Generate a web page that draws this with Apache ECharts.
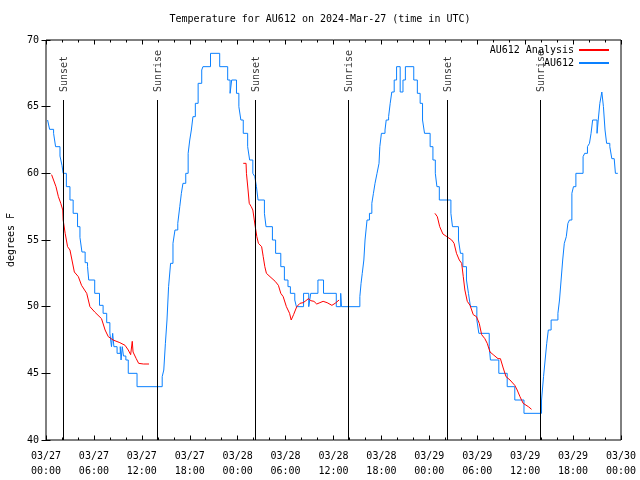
<!DOCTYPE html>
<html><head><meta charset="utf-8">
<script src="https://cdn.jsdelivr.net/npm/echarts@6/dist/echarts.min.js"></script>
<style>html,body{margin:0;padding:0;background:#fff}#c{width:640px;height:480px}</style>
</head><body><div id="c"></div>
<script>
// ---- data ----
const titleText = 'Temperature for AU612 on 2024-Mar-27 (time in UTC)';
const yTitle = 'degrees F';
// x in hours since 2024-03-27 00:00 UTC
const xTickLabels = ['03/27\n00:00','03/27\n06:00','03/27\n12:00','03/27\n18:00','03/28\n00:00','03/28\n06:00','03/28\n12:00','03/28\n18:00','03/29\n00:00','03/29\n06:00','03/29\n12:00','03/29\n18:00','03/30\n00:00'];
const sunHours = [2.17, 13.94, 26.17, 37.86, 50.25, 61.86];
const sunLabels = ['Sunset','Sunrise','Sunset','Sunrise','Sunset','Sunrise'];

// AU612 observed (step changes)
const auHours = [0.2,0.45,0.95,1.2,1.75,2.0,2.15,2.55,3.0,3.4,3.95,4.25,4.5,4.9,5.2,5.35,6.1,6.7,7.15,7.6,8.0,8.2,8.35,8.5,8.9,9.3,9.4,9.55,9.7,10.0,10.3,11.4,
14.55,14.75,14.95,15.15,15.35,15.6,15.9,16.15,16.5,16.75,16.95,17.15,17.5,17.8,18.0,18.2,18.4,18.7,19.05,19.5,19.65,20.6,21.75,22.75,23.05,23.25,23.85,24.15,24.4,24.7,25.25,25.5,25.9,26.15,26.35,26.55,27.35,27.55,28.35,28.75,29.4,29.85,30.3,30.6,31.15,31.35,32.25,32.9,33.15,34.05,34.75,36.35,36.9,37.0,
39.3,39.45,39.6,39.8,39.95,40.2,40.5,40.8,41.0,41.2,41.45,41.7,41.8,42.0,42.45,42.6,42.9,43.1,43.3,43.6,43.9,44.35,44.7,45.0,46.05,46.5,46.85,47.15,47.4,48.1,48.45,48.75,48.95,49.25,50.7,50.9,51.65,51.9,52.2,52.65,52.9,53.15,53.95,54.2,55.5,55.65,56.7,57.75,58.7,59.85,
62.05,62.3,62.5,62.7,62.9,63.25,64.1,64.3,64.5,64.7,64.9,65.15,65.35,65.55,65.85,66.05,66.35,67.25,67.45,67.8,68.05,68.25,68.45,69.0,69.15,69.35,69.6,69.8,70.0,70.2,70.6,70.85,71.15,71.3,71.6];
const auTemps = [64.0,63.3,63.0,62.0,61.3,60.6,60.0,59.0,58.0,57.0,56.0,55.2,54.1,53.3,53.0,52.0,51.0,50.1,49.5,48.8,48.0,47.0,48.0,47.0,46.5,47.0,46.0,47.0,46.3,46.0,45.0,44.0,
44.75,45.25,47.25,49.0,51.5,53.25,54.75,55.75,56.25,57.5,58.5,59.25,60.0,61.5,62.5,63.25,64.25,65.25,66.75,67.75,68.0,69.0,68.0,67.0,66.0,67.0,66.0,65.0,64.0,63.0,62.0,61.0,60.0,59.75,59.0,58.0,57.0,56.0,55.0,54.0,53.0,52.0,51.5,51.0,50.5,50.0,51.0,50.0,51.0,52.0,51.0,50.0,51.0,50.0,
50.75,51.75,52.5,53.5,55.0,56.5,57.0,57.75,58.5,59.25,60.0,60.75,62.0,63.0,63.25,64.0,64.25,65.25,66.1,67.0,68.0,66.1,67.0,68.0,67.0,66.0,65.25,64.0,63.0,62.0,61.0,60.0,59.0,58.0,57.0,56.0,55.0,54.0,53.0,52.0,51.0,50.0,49.0,48.0,47.0,46.0,45.0,44.0,43.0,42.0,
43.0,44.75,46.0,47.25,48.25,49.0,49.5,50.5,52.0,53.5,54.75,55.25,56.25,56.5,58.5,59.0,60.0,61.25,61.5,62.0,62.25,63.0,64.0,63.0,64.0,65.25,66.1,65.0,63.25,62.25,62.0,61.1,61.0,60.0,60.0];

// AU612 Analysis (null = gap between runs)
const anaHours = [0.7,0.95,1.25,1.55,1.85,2.1,2.15,2.4,2.7,3.0,3.25,3.55,4.05,4.45,5.1,5.5,6.1,6.95,7.4,7.8,8.4,9.25,9.9,10.3,10.6,10.8,10.9,11.3,11.6,12.2,12.9,
null,
24.7,25.05,25.1,25.3,25.45,25.7,25.9,26.0,26.2,26.4,26.6,27.0,27.2,27.4,27.6,28.05,28.7,29.1,29.4,29.7,30.1,30.5,30.7,31.0,31.4,31.8,32.2,32.55,32.85,33.15,33.55,33.9,34.3,34.7,35.2,35.8,36.2,36.7,
null,
48.7,49.0,49.3,49.7,50.2,50.4,50.8,51.1,51.4,51.75,52.05,52.25,52.45,52.75,53.1,53.5,53.9,54.25,54.55,54.95,55.25,55.6,56.0,56.6,56.9,57.25,57.6,58.1,58.7,59.0,59.35,59.75,60.4,60.8];
const anaTemps = [59.9,59.75,59.0,58.25,57.75,57.25,56.5,55.5,54.5,54.25,53.5,52.6,52.25,51.6,51.0,50.0,49.6,49.1,48.25,47.75,47.5,47.3,47.1,46.75,46.4,47.4,46.6,46.1,45.75,45.7,45.7,
null,
60.75,60.75,60.0,58.75,57.75,57.5,57.25,57.1,56.0,55.25,54.75,54.5,53.75,53.0,52.5,52.25,51.9,51.6,51.0,50.75,50.0,49.5,49.0,49.4,50.0,50.25,50.3,50.45,50.6,50.45,50.4,50.2,50.3,50.4,50.3,50.1,50.25,50.5,
null,
57.0,56.75,56.0,55.45,55.25,55.1,55.0,54.75,54.0,53.5,53.25,52.25,51.25,50.4,50.1,49.4,49.25,48.75,47.9,47.6,47.25,46.6,46.4,46.1,46.1,45.4,44.75,44.5,44.1,43.75,43.25,42.75,42.5,42.3];

// ---- chart ----
const FONT = '"DejaVu Sans Mono","Liberation Mono",monospace';
const SUN_LINE_TOP = 65.5;   // height of the sunrise/sunset markers
const SUN_LABEL_Y = 66.1;    // where their text starts
const X_MIN = 0, X_MAX = 72, Y_MIN = 40, Y_MAX = 70;

const pair = (xs, ys) => xs.map((x, i) => (x === null || ys[i] === null) ? '-' : [x, ys[i]]);

const tickStyle = {show: true, inside: true, length: 4.5, lineStyle: {color: '#000', width: 1}};
const minorStyle = {show: true, splitNumber: 3, length: 2.5, lineStyle: {color: '#000', width: 1}};
const legendBase = {right: 30, padding: 0, align: 'right', orient: 'vertical',
  itemWidth: 30, itemHeight: 10, selectedMode: false, itemStyle: {opacity: 0},
  textStyle: {fontFamily: FONT, fontSize: 10, color: '#000'}};

const chart = echarts.init(document.getElementById('c'), null, {renderer: 'canvas'});
chart.setOption({
  animation: false,
  backgroundColor: '#fff',
  textStyle: {fontFamily: FONT},
  title: {text: titleText, left: 'center', top: 14, padding: 0,
    textStyle: {fontFamily: FONT, fontSize: 10, fontWeight: 'normal', color: '#000'}},
  legend: [
    Object.assign({}, legendBase, {data: ['AU612 Analysis'], top: 45}),
    Object.assign({}, legendBase, {data: ['AU612'], top: 58})
  ],
  grid: {left: 46, right: 19, top: 40, bottom: 40, show: true, borderColor: '#000', borderWidth: 1,
    backgroundColor: 'transparent', containLabel: false, outerBoundsMode: 'none'},
  xAxis: [
    {type: 'value', min: X_MIN, max: X_MAX, interval: 6, position: 'bottom',
     axisLine: {show: false}, splitLine: {show: false},
     axisTick: tickStyle, minorTick: minorStyle,
     axisLabel: {margin: 9, lineHeight: 15, fontFamily: FONT, fontSize: 10, color: '#000',
       formatter: v => xTickLabels[Math.round(v / 6)]}},
    {type: 'value', min: X_MIN, max: X_MAX, interval: 6, position: 'top',
     axisLine: {show: false}, splitLine: {show: false},
     axisTick: tickStyle, minorTick: minorStyle, axisLabel: {show: false}}
  ],
  yAxis: [
    {type: 'value', min: Y_MIN, max: Y_MAX, interval: 5, position: 'left',
     axisLine: {show: false}, splitLine: {show: false}, axisTick: tickStyle,
     axisLabel: {margin: 7, fontFamily: FONT, fontSize: 10, color: '#000'},
     name: yTitle, nameLocation: 'middle', nameRotate: 90, nameGap: 30,
     nameTextStyle: {fontFamily: FONT, fontSize: 10, color: '#000'}},
    {type: 'value', min: Y_MIN, max: Y_MAX, interval: 5, position: 'right',
     axisLine: {show: false}, splitLine: {show: false}, axisTick: tickStyle, axisLabel: {show: false}}
  ],
  series: [
    {name: 'AU612 Analysis', type: 'line', data: pair(anaHours, anaTemps), showSymbol: false, symbol: 'none',
     connectNulls: false, lineStyle: {color: '#ff0000', width: 1}, itemStyle: {color: '#ff0000'}, z: 3},
    {name: 'AU612', type: 'line', step: 'end', data: pair(auHours, auTemps), showSymbol: false, symbol: 'none',
     lineStyle: {color: '#0a80ff', width: 1}, itemStyle: {color: '#0a80ff'}, z: 2},
    {name: 'sun', type: 'scatter', symbolSize: 0, silent: true, z: 1,
     data: sunHours.map((h, i) => ({value: [h, SUN_LABEL_Y], name: sunLabels[i]})),
     label: {show: true, formatter: '{b}', position: [1, 0], rotate: 90, align: 'left', verticalAlign: 'middle',
       fontFamily: FONT, fontSize: 10, color: '#000'},
     markLine: {silent: true, symbol: ['none', 'none'], label: {show: false},
       lineStyle: {color: '#000', width: 1, type: 'solid'},
       data: sunHours.map(h => [{coord: [h, Y_MIN]}, {coord: [h, SUN_LINE_TOP]}])}}
  ]
});
</script></body></html>
